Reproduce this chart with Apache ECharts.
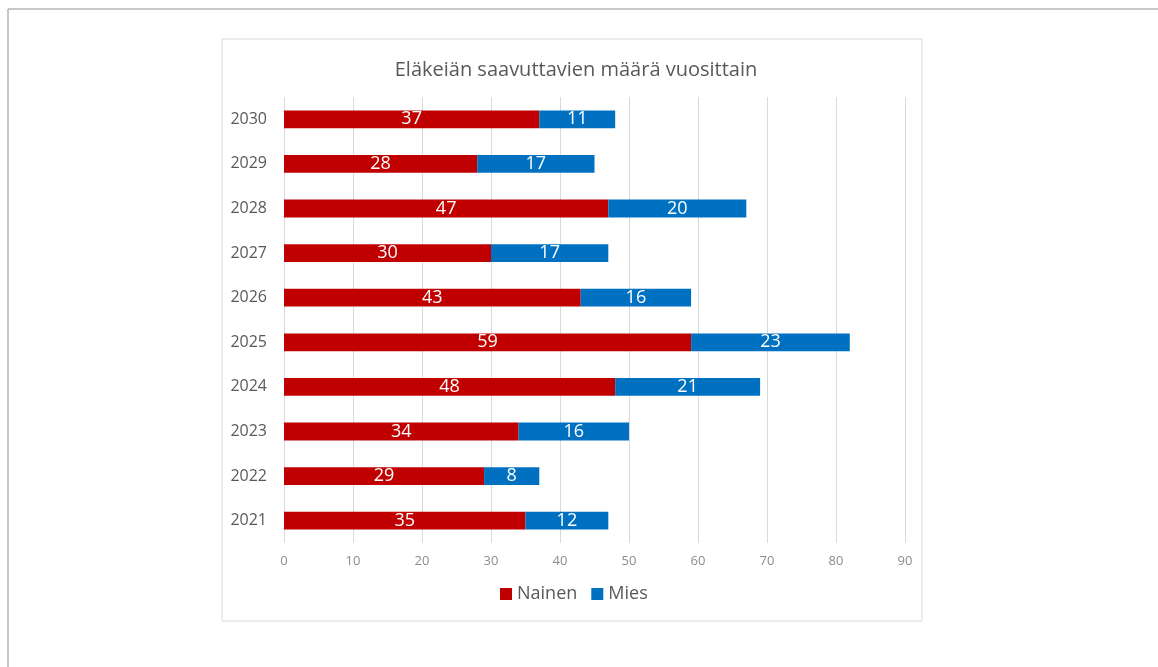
<!DOCTYPE html>
<html>
<head>
<meta charset="utf-8">
<script src="https://cdn.jsdelivr.net/npm/echarts@6/dist/echarts.min.js"></script>
<style>
html,body{margin:0;padding:0;background:#fff;}
#c{width:1158px;height:667px;}
</style>
</head>
<body>
<div id="c"></div>
<script>
const years = ['2021','2022','2023','2024','2025','2026','2027','2028','2029','2030'];
const nainen = [35, 29, 34, 48, 59, 43, 30, 47, 28, 37];
const mies = [12, 8, 16, 21, 23, 16, 17, 20, 17, 11];
const seriesNames = ['Nainen', 'Mies'];
const titleText = 'Eläkeiän saavuttavien määrä vuosittain';

const FONT = '"Open Sans", "Liberation Sans", sans-serif';
const chart = echarts.init(document.getElementById('c'));
chart.setOption({
  backgroundColor: '#ffffff',
  animation: false,
  textStyle: { fontFamily: FONT },
  graphic: [
    { type: 'line', shape: { x1: 8, y1: 9, x2: 1158, y2: 9 }, style: { stroke: '#b4b4b4', lineWidth: 1.5 } },
    { type: 'line', shape: { x1: 8, y1: 9, x2: 8, y2: 667 }, style: { stroke: '#b4b4b4', lineWidth: 1.5 } },
    { type: 'rect', shape: { x: 222, y: 39, width: 700, height: 582 }, style: { fill: 'none', stroke: '#d9d9d9', lineWidth: 1 }, z: -1 }
  ],
  title: {
    text: titleText,
    left: 571, top: 55, textAlign: 'center',
    textStyle: { fontFamily: FONT, fontSize: 20, fontWeight: 'normal', color: '#595959' }
  },
  legend: {
    data: seriesNames,
    left: 495, top: 580,
    itemWidth: 12, itemHeight: 12, itemGap: 14,
    icon: 'rect',
    textStyle: { fontFamily: FONT, fontSize: 18, color: '#595959' }
  },
  grid: { left: 284, right: 253, top: 97, height: 446, containLabel: false },
  xAxis: {
    type: 'value', min: 0, max: 90, interval: 10,
    axisLine: { show: false }, axisTick: { show: false },
    splitLine: { show: true, lineStyle: { color: '#d9d9d9', width: 1 } },
    axisLabel: { color: '#8c8c8c', fontSize: 13, margin: 12, fontFamily: FONT }
  },
  yAxis: {
    type: 'category', data: years,
    axisLine: { show: false }, axisTick: { show: false },
    axisLabel: { color: '#595959', fontSize: 16, margin: 17, fontFamily: FONT }
  },
  series: [
    {
      name: seriesNames[0], type: 'bar', stack: 'a', data: nainen,
      barCategoryGap: '60%',
      itemStyle: { color: '#C00000' },
      label: { show: true, position: 'inside', color: '#ffffff', fontSize: 18, fontFamily: FONT }
    },
    {
      name: seriesNames[1], type: 'bar', stack: 'a', data: mies,
      barCategoryGap: '60%',
      itemStyle: { color: '#0070C0' },
      label: { show: true, position: 'inside', color: '#ffffff', fontSize: 18, fontFamily: FONT }
    }
  ]
});
</script>
</body>
</html>
